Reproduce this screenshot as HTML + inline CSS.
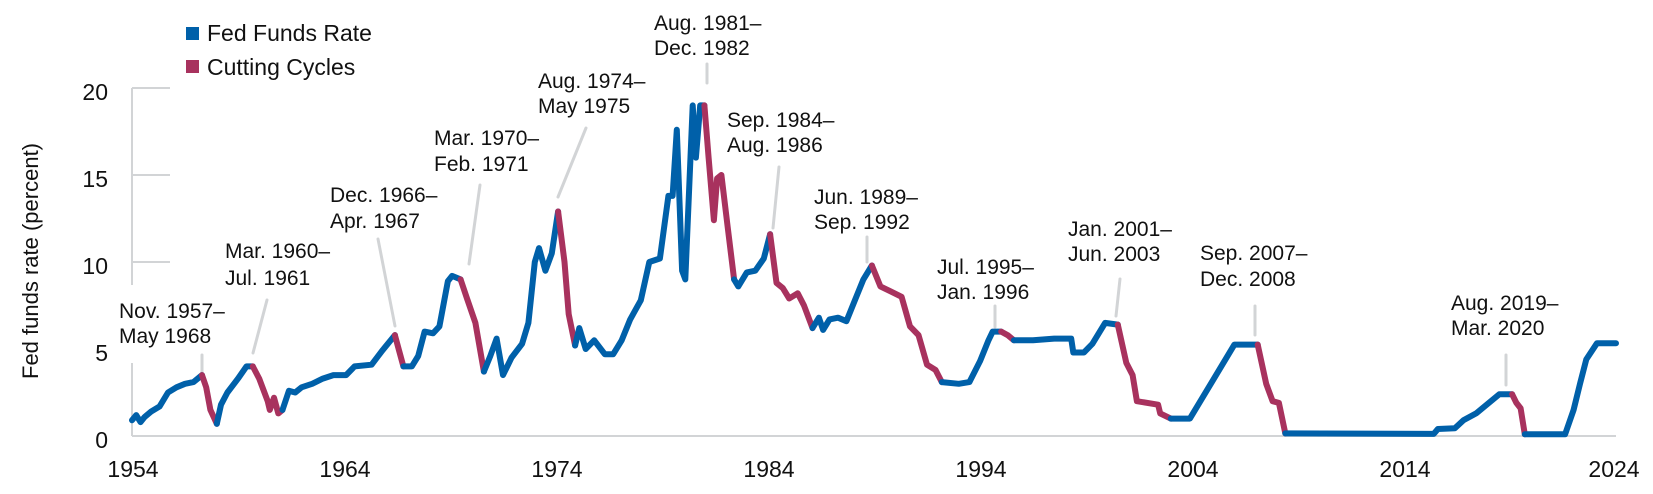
<!DOCTYPE html>
<html><head><meta charset="utf-8">
<style>
html,body{margin:0;padding:0;background:#fff;}
svg{display:block;font-family:"Liberation Sans",Arial,sans-serif;}
.lab{font-size:21px;fill:#111;}
.tick{font-size:23px;fill:#111;}
</style></head>
<body>
<svg id="s" width="1653" height="494" viewBox="0 0 1653 494">
<rect x="186" y="27" width="13" height="13" fill="#0060a9"/>
<text x="207" y="41" font-size="23" fill="#111">Fed Funds Rate</text>
<rect x="186" y="60" width="13" height="13" fill="#a8325e"/>
<text x="207" y="75" font-size="23" fill="#111">Cutting Cycles</text>
<g stroke="#d2d4d6" stroke-width="2" fill="none">
<line x1="132" y1="88" x2="132" y2="285"/>
<line x1="132" y1="363" x2="132" y2="436"/>
<line x1="132" y1="436" x2="1616" y2="436"/>
<line x1="132" y1="88" x2="170" y2="88"/>
<line x1="132" y1="175" x2="170" y2="175"/>
<line x1="132" y1="262" x2="170" y2="262"/>
</g>
<g class="tick" text-anchor="end">
<text x="108" y="100">20</text><text x="108" y="187">15</text><text x="108" y="274">10</text>
<text x="108" y="361">5</text><text x="108" y="448">0</text>
</g>
<g class="tick" text-anchor="middle">
<text x="133" y="477">1954</text><text x="345" y="477">1964</text><text x="557" y="477">1974</text>
<text x="769" y="477">1984</text><text x="981" y="477">1994</text><text x="1193" y="477">2004</text>
<text x="1405" y="477">2014</text><text x="1614" y="477">2024</text>
</g>
<text transform="translate(38,261) rotate(-90)" text-anchor="middle" font-size="22" fill="#111">Fed funds rate (percent)</text>
<g stroke="#d2d4d6" stroke-width="3" stroke-linecap="round">
<line x1="202" y1="355" x2="202" y2="375"/>
<line x1="267" y1="300" x2="253" y2="353"/>
<line x1="378" y1="239" x2="395" y2="326"/>
<line x1="480" y1="185" x2="469" y2="264"/>
<line x1="586" y1="128" x2="558" y2="197"/>
<line x1="707" y1="64" x2="707" y2="83"/>
<line x1="779" y1="167" x2="773" y2="228"/>
<line x1="867" y1="237" x2="867" y2="262"/>
<line x1="995" y1="306" x2="995" y2="327"/>
<line x1="1120" y1="279" x2="1116" y2="316"/>
<line x1="1255" y1="306" x2="1255" y2="335"/>
<line x1="1506" y1="355" x2="1506" y2="385"/>
</g>
<g class="lab">
<text x="119" y="318">Nov. 1957–</text><text x="119" y="343">May 1968</text>
<text x="225" y="258">Mar. 1960–</text><text x="225" y="285">Jul. 1961</text>
<text x="330" y="202">Dec. 1966–</text><text x="330" y="228">Apr. 1967</text>
<text x="434" y="145">Mar. 1970–</text><text x="434" y="171">Feb. 1971</text>
<text x="538" y="88">Aug. 1974–</text><text x="538" y="113">May 1975</text>
<text x="654" y="30">Aug. 1981–</text><text x="654" y="55">Dec. 1982</text>
<text x="727" y="127">Sep. 1984–</text><text x="727" y="152">Aug. 1986</text>
<text x="814" y="204">Jun. 1989–</text><text x="814" y="229">Sep. 1992</text>
<text x="937" y="274">Jul. 1995–</text><text x="937" y="299">Jan. 1996</text>
<text x="1068" y="236">Jan. 2001–</text><text x="1068" y="261">Jun. 2003</text>
<text x="1200" y="260">Sep. 2007–</text><text x="1200" y="286">Dec. 2008</text>
<text x="1451" y="310">Aug. 2019–</text><text x="1451" y="335">Mar. 2020</text>
</g>
<g id="series" fill="none" stroke-width="6" stroke-linejoin="round" stroke-linecap="round"></g>
</svg>
<script>
var B="#0060a9",R="#a8325e";
var segs=[
[B,[[1954.5,0.9],[1954.7,1.2],[1954.9,0.8],[1955.1,1.1],[1955.4,1.4],[1955.8,1.7],[1956.2,2.5],[1956.6,2.8],[1957,3.0],[1957.4,3.1],[1957.8,3.5]]],
[R,[[1957.8,3.5],[1958.0,2.8],[1958.2,1.5],[1958.5,0.7]]],
[B,[[1958.5,0.7],[1958.7,1.8],[1959,2.5],[1959.5,3.3],[1959.9,4.0],[1960.2,4.0]]],
[R,[[1960.2,4.0],[1960.5,3.3],[1960.9,2.0],[1961.0,1.5],[1961.2,2.2],[1961.4,1.3],[1961.6,1.5]]],
[B,[[1961.6,1.5],[1961.9,2.6],[1962.2,2.5],[1962.5,2.8],[1963,3.0],[1963.5,3.3],[1964,3.5],[1964.6,3.5],[1965,4.0],[1965.8,4.1],[1966.3,4.9],[1966.9,5.8]]],
[R,[[1966.9,5.8],[1967.1,4.9],[1967.3,4.0]]],
[B,[[1967.3,4.0],[1967.7,4.0],[1968,4.6],[1968.3,6.0],[1968.7,5.9],[1969,6.3],[1969.4,8.9],[1969.6,9.2],[1970.0,9.0]]],
[R,[[1970.0,9.0],[1970.3,7.9],[1970.7,6.5],[1971.1,3.7]]],
[B,[[1971.1,3.7],[1971.4,4.6],[1971.7,5.6],[1972.0,3.5],[1972.4,4.5],[1972.9,5.3],[1973.2,6.5],[1973.5,10.0],[1973.7,10.8],[1974.0,9.5],[1974.3,10.5],[1974.6,12.9]]],
[R,[[1974.6,12.9],[1974.9,10.0],[1975.1,7.0],[1975.4,5.2]]],
[B,[[1975.4,5.2],[1975.6,6.2],[1975.9,5.0],[1976.3,5.5],[1976.8,4.7],[1977.2,4.7],[1977.6,5.5],[1978,6.7],[1978.5,7.8],[1978.9,10.0],[1979.4,10.2],[1979.8,13.8],[1980.0,13.8],[1980.2,17.6],[1980.45,9.5],[1980.6,9.0],[1980.95,19.0],[1981.1,16.0],[1981.3,19.0],[1981.5,19.0]]],
[R,[[1981.5,19.0],[1981.7,16.0],[1981.95,12.4],[1982.1,14.8],[1982.3,15.0],[1982.6,12.0],[1982.9,9.0]]],
[B,[[1982.9,9.0],[1983.1,8.6],[1983.5,9.4],[1983.9,9.5],[1984.3,10.2],[1984.6,11.6]]],
[R,[[1984.6,11.6],[1984.9,8.8],[1985.2,8.5],[1985.5,7.9],[1985.9,8.2],[1986.2,7.5],[1986.6,6.2]]],
[B,[[1986.6,6.2],[1986.9,6.8],[1987.1,6.1],[1987.4,6.7],[1987.8,6.8],[1988.2,6.6],[1988.6,7.8],[1989.0,9.0],[1989.4,9.8]]],
[R,[[1989.4,9.8],[1989.8,8.6],[1990.3,8.3],[1990.8,8.0],[1991.2,6.3],[1991.6,5.8],[1992.0,4.1],[1992.4,3.8],[1992.7,3.1]]],
[B,[[1992.7,3.1],[1993.5,3.0],[1994.0,3.1],[1994.5,4.3],[1994.9,5.5],[1995.1,6.0],[1995.5,6.0]]],
[R,[[1995.5,6.0],[1995.8,5.8],[1996.1,5.5]]],
[B,[[1996.1,5.5],[1997,5.5],[1998,5.6],[1998.8,5.6],[1998.9,4.8],[1999.4,4.8],[1999.8,5.3],[2000.4,6.5],[2001.0,6.4]]],
[R,[[2001.0,6.4],[2001.4,4.2],[2001.7,3.5],[2001.9,2.0],[2002.9,1.8],[2003.0,1.3],[2003.5,1.0]]],
[B,[[2003.5,1.0],[2004.4,1.0],[2006.5,5.25],[2007.6,5.25]]],
[R,[[2007.6,5.25],[2008.0,3.0],[2008.3,2.0],[2008.6,1.9],[2008.9,0.15]]],
[B,[[2008.9,0.15],[2015.9,0.12],[2016.1,0.4],[2016.9,0.45],[2017.3,0.9],[2017.9,1.3],[2018.5,1.9],[2019.0,2.4],[2019.6,2.4]]],
[R,[[2019.6,2.4],[2019.8,1.9],[2020.0,1.6],[2020.2,0.1]]],
[B,[[2020.2,0.1],[2022.1,0.1],[2022.5,1.5],[2022.8,3.0],[2023.1,4.4],[2023.6,5.33],[2024.5,5.33]]]
];
function X(y){return 132+(y-1954.5)*21.2;}
function Y(v){return 436-v*17.4;}
var g=document.getElementById("series"),h="";
segs.forEach(function(s){
 var d=s[1].map(function(p,i){return (i?"L":"M")+X(p[0]).toFixed(1)+" "+Y(p[1]).toFixed(1);}).join("");
 h+='<path stroke="'+s[0]+'" d="'+d+'"/>';
});
g.innerHTML=h;
</script>
</body></html>
